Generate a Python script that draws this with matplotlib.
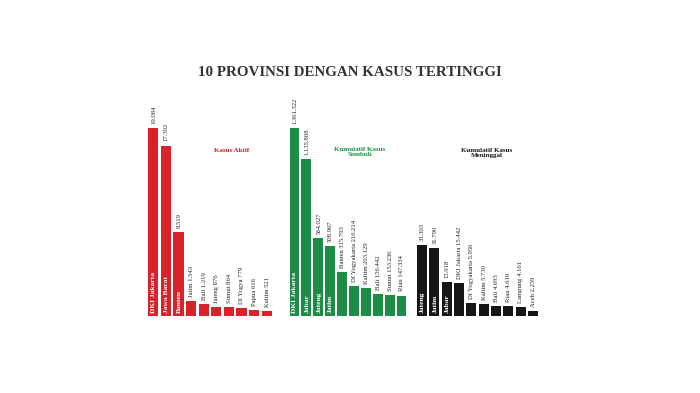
import numpy as np
import matplotlib.pyplot as plt

# data
red_names = ["DKI Jakarta", "Jawa Barat", "Banten", "Jatim", "Bali", "Jateng",
             "Sumut", "DI Yogya", "Papua", "Kaltim"]
red_values = [19084, 17302, 8519, 1543, 1219, 876, 864, 779, 616, 521]

green_names = ["DKI Jakarta", "Jabar", "Jateng", "Jatim", "Banten", "DI Yogyakarta",
               "Kaltim", "Bali", "Sumut", "Riau"]
green_values = [1361322, 1135808, 564027, 508967, 315793, 216214, 203129,
                156442, 153236, 147334]

black_names = ["Jateng", "Jatim", "Jabar", "DKI Jakarta", "DI Yogyakarta", "Kaltim",
               "Bali", "Riau", "Lampung", "Aceh"]
black_values = [33303, 31790, 15918, 15442, 5956, 5730, 4693, 4616, 4161, 2259]

W, H = 700, 393
SERIF = ["Liberation Serif", "DejaVu Serif"]


def fmt(v):
    return "{:,}".format(v).replace(",", ".")


def draw_group(fig, left_px, width_px, names, values, color, n_inside, ymax):
    ax = fig.add_axes([left_px / W, 1 - 316 / H, width_px / W, 188 / H])
    x = np.arange(len(values))
    ax.bar(x, values, width=0.82, color=color)
    ax.set_xlim(-0.5, len(values) - 0.5)
    ax.set_ylim(0, ymax)
    ax.axis("off")
    for i, (n, v) in enumerate(zip(names, values)):
        if i < n_inside:
            # name inside the bar, value on top
            ax.annotate(n, (i, 0), xytext=(0.3, 2), textcoords="offset points",
                        rotation=90, ha="center", va="bottom", color="white",
                        fontsize=5.4, fontweight="bold", family=SERIF)
            ax.annotate(fmt(v), (i, v), xytext=(0.3, 3), textcoords="offset points",
                        rotation=90, ha="center", va="bottom", color="#222222",
                        fontsize=4.8, family=SERIF, annotation_clip=False)
        else:
            ax.annotate(n + " " + fmt(v), (i, v), xytext=(0.3, 3),
                        textcoords="offset points", rotation=90, ha="center",
                        va="bottom", color="#222222", fontsize=4.8, family=SERIF,
                        annotation_clip=False)
    return ax


fig = plt.figure(figsize=(7, 3.93), dpi=100)
fig.patch.set_facecolor("white")

draw_group(fig, 147, 126, red_names, red_values, "#d8232a", 3, red_values[0])
draw_group(fig, 288.5, 119, green_names, green_values, "#1c8c47", 4, green_values[0])
draw_group(fig, 416, 123, black_names, black_values, "#161616", 3,
           black_values[0] * 188 / 71)

fig.text(350 / W, 1 - 72 / H, "10 PROVINSI DENGAN KASUS TERTINGGI", ha="center",
         va="center", fontsize=10.8, fontweight="bold", color="#333333", family=SERIF)
fig.text(232 / W, 1 - 150 / H, "Kasus Aktif", ha="center", va="center",
         fontsize=5, fontweight="bold", color="#c8202a", family=SERIF)
fig.text(360 / W, 1 - 152 / H, "Kumulatif Kasus\nSembuh", ha="center", va="center",
         fontsize=5, fontweight="bold", color="#1c8c47", family=SERIF, linespacing=1.1)
fig.text(487 / W, 1 - 153 / H, "Kumulatif Kasus\nMeninggal", ha="center", va="center",
         fontsize=5, fontweight="bold", color="#161616", family=SERIF, linespacing=1.1)

fig.savefig("out.png", dpi=100, facecolor="white")
